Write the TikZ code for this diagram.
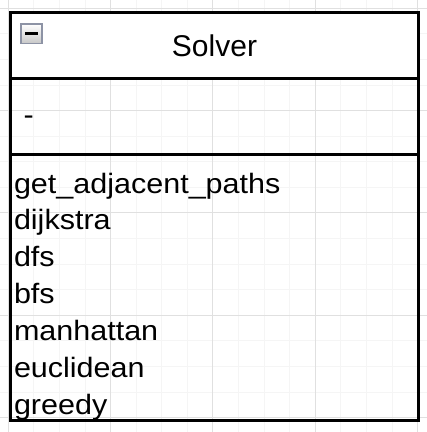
\documentclass[tikz,border=0pt]{standalone}
\usepackage{fontspec}
\setmainfont{Liberation Sans}
\definecolor{gridminor}{RGB}{245,245,245}
\definecolor{gridmajor}{RGB}{224,224,224}
\definecolor{iconborder}{RGB}{141,147,165}
\newcommand{\wide}[1]{\scalebox{1.09}[1]{#1}}
\tikzset{
  umltext/.style={inner sep=0pt, outer sep=0pt, font=\fontsize{28}{34}\selectfont, anchor=base west},
  titletext/.style={inner sep=0pt, outer sep=0pt, font=\fontsize{30}{36}\selectfont, anchor=base},
  umlline/.style={line width=3pt, draw=black},
}
\begin{document}
\begin{tikzpicture}[x=1pt,y=-1pt]
\useasboundingbox (0,0) rectangle (427,432);
\fill[white] (0,0) rectangle (427,432);
% grid
\foreach \i in {0,...,16} {
  \pgfmathsetmacro\p{8.3+25.58*\i}
  \draw[gridminor, line width=0.9pt] (\p,0) -- (\p,432);
  \draw[gridminor, line width=0.9pt] (0,\p) -- (427,\p);
}
\foreach \i in {0,...,4} {
  \pgfmathsetmacro\p{8.3+102.32*\i}
  \draw[gridmajor, line width=0.9pt] (\p,0) -- (\p,432);
  \draw[gridmajor, line width=0.9pt] (0,\p) -- (427,\p);
}
% class box
\fill[white] (10.5,12) rectangle (418.5,78.3);
\draw[umlline] (10.5,12) rectangle (418.5,420.5);
\draw[umlline] (10.5,78.3) -- (418.5,78.3);
\draw[umlline] (10.5,154.7) -- (418.5,154.7);
% collapse icon
\draw[draw=iconborder, line width=1.5pt, top color=white, bottom color=black!22] (20.8,24) rectangle (42,43.6);
\fill[black] (25,32.3) rectangle (38,35.3);
% texts
\node[titletext] (title) at (214.5,56) {Solver};
\node[umltext] (attr) at (23.7,124) {\wide{-}};
\node[umltext] (m1) at (14,193) {\wide{get\_adjacent\_paths}};
\node[umltext] (m2) at (14,229.9) {\wide{dijkstra}};
\node[umltext] (m3) at (14,266.8) {\wide{dfs}};
\node[umltext] (m4) at (14,303.7) {\wide{bfs}};
\node[umltext] (m5) at (14,340.6) {\wide{manhattan}};
\node[umltext] (m6) at (14,377.5) {\wide{euclidean}};
\node[umltext] (m7) at (14,414) {\wide{greedy}};
\end{tikzpicture}
\end{document}
